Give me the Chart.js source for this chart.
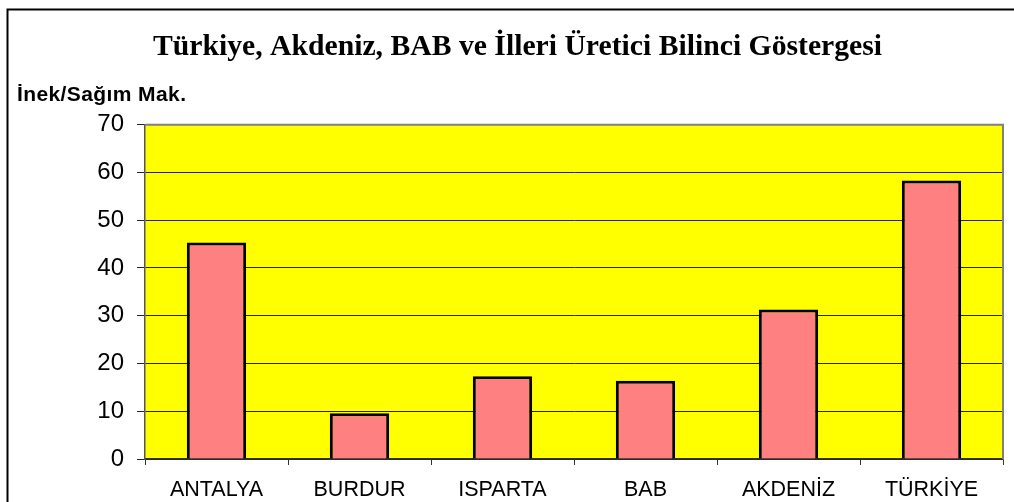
<!DOCTYPE html>
<html>
<head>
<meta charset="utf-8">
<script src="https://cdn.jsdelivr.net/npm/chart.js@4/dist/chart.umd.min.js"></script>
<style>
  html, body { margin: 0; padding: 0; background: #fff; }
  #wrap { width: 1014px; height: 502px; }
</style>
</head>
<body>
<div id="wrap"><canvas id="chart" width="1014" height="502"></canvas></div>
<script>
// veriler
const categories = ['ANTALYA', 'BURDUR', 'ISPARTA', 'BAB', 'AKDENİZ', 'TÜRKİYE'];
const values = [45.3, 9.6, 17.3, 16.4, 31.3, 58.3];
const yTicks = [0, 10, 20, 30, 40, 50, 60, 70];
const titleText = 'Türkiye, Akdeniz, BAB ve İlleri Üretici Bilinci Göstergesi';
const yLabel = 'İnek/Sağım Mak.';

// cerceve, sari zemin ve birim yazisi
const decor = {
  id: 'decor',
  beforeDraw(chart) {
    const { ctx, chartArea: a } = chart;
    ctx.save();
    ctx.fillStyle = '#ffff00';
    ctx.fillRect(a.left, a.top, a.right - a.left, a.bottom - a.top);
    ctx.strokeStyle = '#000';
    ctx.lineWidth = 2;
    ctx.beginPath();
    ctx.moveTo(7.5, chart.height);
    ctx.lineTo(7.5, 9.5);
    ctx.lineTo(chart.width, 9.5);
    ctx.stroke();
    ctx.restore();
  },
  afterDraw(chart) {
    const { ctx, chartArea: a } = chart;
    ctx.save();
    ctx.strokeStyle = '#808080';
    ctx.lineWidth = 2;
    ctx.beginPath();
    ctx.moveTo(a.left, a.top);
    ctx.lineTo(a.right, a.top);
    ctx.lineTo(a.right, a.bottom);
    ctx.stroke();
    ctx.fillStyle = '#000';
    ctx.font = 'bold 21px "Liberation Sans", Arial, sans-serif';
    ctx.letterSpacing = '0.4px';
    ctx.textBaseline = 'alphabetic';
    ctx.textAlign = 'left';
    ctx.fillText(yLabel, 17, 101);
    ctx.restore();
  }
};

new Chart(document.getElementById('chart'), {
  type: 'bar',
  data: {
    labels: categories,
    datasets: [{
      data: values,
      backgroundColor: '#ff8080',
      borderColor: '#000',
      borderWidth: 3,
      barPercentage: 0.415,
      categoryPercentage: 1
    }]
  },
  options: {
    responsive: false,
    animation: false,
    layout: { padding: { left: 32, right: 11, top: 0, bottom: 0 } },
    plugins: {
      legend: { display: false },
      tooltip: { enabled: false },
      title: {
        display: true,
        text: titleText,
        color: '#000',
        font: { family: '"Liberation Serif", "Times New Roman", serif', size: 29.7, weight: 'bold' },
        padding: { top: 30, bottom: 59 }
      }
    },
    scales: {
      x: {
        afterFit: s => { s.height = 43; },
        border: { color: '#333', width: 1.5 },
        grid: { drawOnChartArea: false, drawTicks: true, tickLength: 6, offset: true, color: '#333' },
        ticks: { color: '#000', padding: 12, font: { family: '"Liberation Sans", Arial, sans-serif', size: 21.5 } }
      },
      y: {
        min: 0,
        max: 70,
        afterFit: s => { s.width = 113; },
        afterBuildTicks: s => { s.ticks = yTicks.map(v => ({ value: v })); },
        border: { color: '#555', width: 1.5 },
        grid: { color: '#222', lineWidth: 1, drawTicks: true, tickLength: 8 },
        ticks: { color: '#000', padding: 13, font: { family: '"Liberation Sans", Arial, sans-serif', size: 24 } }
      }
    }
  },
  plugins: [decor]
});
</script>
</body>
</html>
